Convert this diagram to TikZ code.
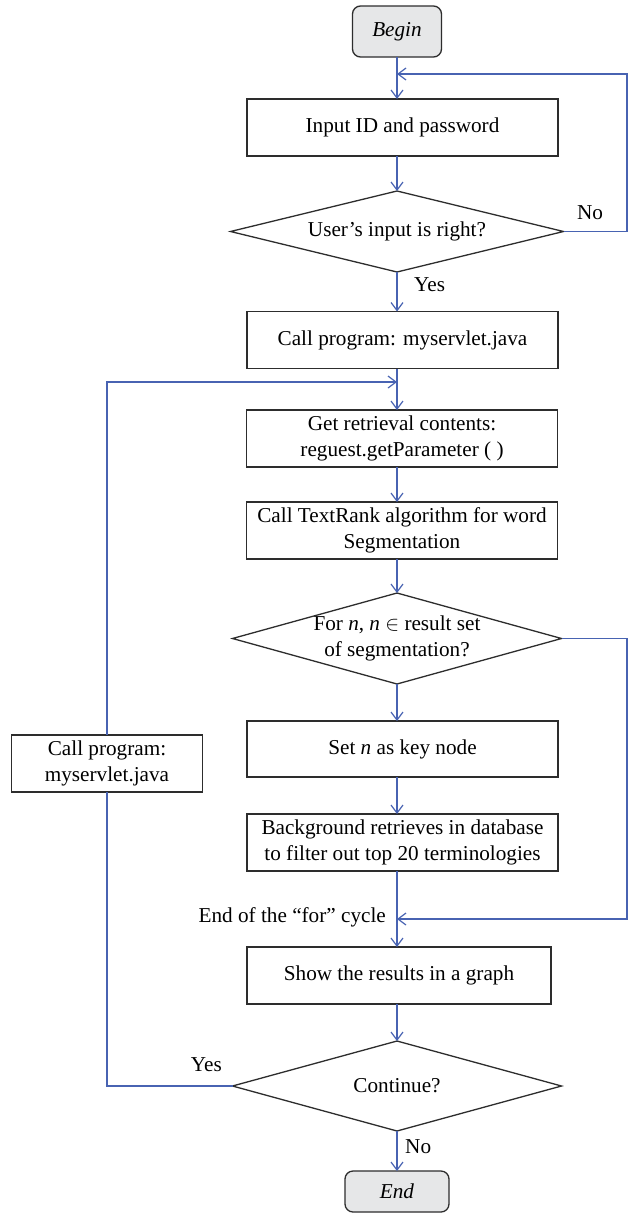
\documentclass[tikz,border=0pt]{standalone}
\usepackage{fontspec}
\setmainfont{Liberation Serif}
\usetikzlibrary{shapes.geometric,arrows.meta,calc}
\definecolor{flowblue}{RGB}{72,99,178}
\definecolor{boxline}{RGB}{45,45,45}
\definecolor{termfill}{RGB}{230,231,232}
\begin{document}
\begin{tikzpicture}[x=1pt,y=-1pt,
  txt/.style={font=\fontsize{21.2}{25.5}\selectfont, text=black, inner sep=0pt, align=center},
  procbox/.style={txt, draw=boxline, line width=1.3pt, rectangle, minimum width=311pt, minimum height=57pt, outer sep=0pt},
  termbox/.style={procbox, rounded corners=8pt, fill=termfill, font=\fontsize{21.2}{25.5}\selectfont\itshape},
  decbox/.style={draw=boxline, line width=1.3pt, diamond, inner sep=0pt, outer sep=0pt},
  flow/.style={draw=flowblue, line width=1.2pt},
  arr/.style={flow, -{Straight Barb[length=8pt,width=12pt]}}
]
\fill[white] (0,0) rectangle (628,1213);
\useasboundingbox (0,0) rectangle (628,1213);

% nodes
\node[termbox, minimum width=89pt, minimum height=51pt] (begin) at (397,31.5) {Begin};
\node[procbox] (input) at (402.5,127.5) {Input ID and password};
\node[decbox, minimum width=333pt, minimum height=81pt,
      label={[txt]center:User’s input is right?}] (dec1) at (397,231.5) {};
\node[procbox] (call) at (402.5,340) {Call program: myservlet.java};
\node[procbox] (get) at (402,438.5) {Get retrieval contents:\\reguest.getParameter ( )};
\node[procbox] (tr) at (402,530.5) {Call TextRank algorithm for word\\Segmentation};
\node[decbox, minimum width=329pt, minimum height=91pt,
      label={[txt]center:For \textit{n}, \textit{n} $\in$ result set\\of segmentation?}] (dec2) at (397,638.5) {};
\node[procbox, minimum height=56pt] (setn) at (402.5,749) {Set \textit{n} as key node};
\node[procbox] (bg) at (402.5,842.5) {Background retrieves in database\\to filter out top 20 terminologies};
\node[procbox, minimum width=304pt] (show) at (399,975.5) {Show the results in a graph};
\node[decbox, minimum width=329pt, minimum height=90pt,
      label={[txt]center:Continue?}] (dec3) at (397,1086) {};
\node[termbox, minimum width=104pt, minimum height=41pt] (endn) at (397,1191.5) {End};
\node[procbox, minimum width=191pt] (lb) at (107,763.5) {Call program:\\myservlet.java};

% labels
\node[txt] (no1) at (590,213) {No};
\node[txt, anchor=west] (yes1) at (414,285) {Yes};
\node[txt, anchor=east] (cyc) at (386,917) {End of the “for” cycle};
\node[txt, anchor=east] (yes3) at (222,1065) {Yes};
\node[txt, anchor=west] (no3) at (405,1147) {No};

% helper coordinates
\coordinate (rt) at (627,0);
\coordinate (j1) at (397,74);
\coordinate (j2) at (397,382);
\coordinate (j3) at (397,919);

% connectors
\draw[arr] (begin.south) -- (begin.south |- input.north);
\draw[arr] (dec1.east) -- (dec1.east -| rt) |- (j1);
\draw[arr] (input.south -| dec1.north) -- (dec1.north);
\draw[arr] (dec1.south) -- (dec1.south |- call.north);
\draw[flow] (call.south -| j2) -- (j2);
\draw[arr] (j2) -- (j2 |- get.north);
\draw[arr] (get.south -| j2) -- (j2 |- tr.north);
\draw[arr] (tr.south -| dec2.north) -- (dec2.north);
\draw[arr] (dec2.south) -- (dec2.south |- setn.north);
\draw[arr] (setn.south -| dec2.south) -- (dec2.south |- bg.north);
\draw[flow] (bg.south -| j3) -- (j3);
\draw[arr] (j3) -- (j3 |- show.north);
\draw[arr] (dec2.east) -- (dec2.east -| rt) |- (j3);
\draw[arr] (show.south -| dec3.north) -- (dec3.north);
\draw[arr] (dec3.south) -- (endn.north);
\draw[flow] (dec3.west) -| (lb.south);
\draw[arr] (lb.north) |- (j2);
\end{tikzpicture}
\end{document}
